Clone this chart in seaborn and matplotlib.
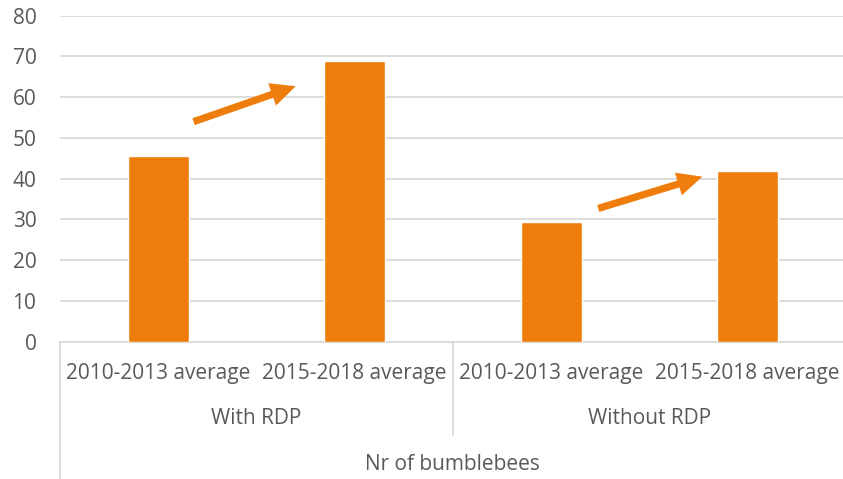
import matplotlib
matplotlib.use("Agg")
import matplotlib.pyplot as plt
import seaborn as sns
import pandas as pd

# Average number of bumblebees per period, with and without RDP
groups = ["With RDP", "With RDP", "Without RDP", "Without RDP"]
periods = ["2010-2013 average", "2015-2018 average", "2010-2013 average", "2015-2018 average"]
bumblebees = [45.5, 68.8, 29.5, 41.9]
axis_title = "Nr of bumblebees"
y_ticks = [0, 10, 20, 30, 40, 50, 60, 70, 80]

ORANGE = "#EF7D0C"
GRID = "#D9D9D9"
TEXT = "#595959"
FS = 15

sns.set_theme(style="white")
plt.rcParams["font.family"] = ["Open Sans", "DejaVu Sans"]

df = pd.DataFrame({
    "key": [f"{g}|{p}" for g, p in zip(groups, periods)],
    "group": groups,
    "period": periods,
    "value": bumblebees,
})

fig = plt.figure(figsize=(8.43, 4.79), dpi=100)
ax = fig.add_axes([0.0712, 0.2866, 0.932, 0.6806])

sns.barplot(data=df, x="key", y="value", order=list(df["key"]),
            color=ORANGE, saturation=1, width=0.31, ax=ax, zorder=3)

ax.set_xlim(-0.5, len(df) - 0.5)
ax.set_ylim(0, 80)
ax.set_yticks(y_ticks)
ax.set_yticklabels([str(t) for t in y_ticks], fontsize=FS, color=TEXT)
ax.tick_params(axis="y", length=0, pad=17)
ax.set_xticks([])
ax.set_xlabel("")
ax.set_ylabel("")
ax.yaxis.grid(True, color=GRID, linewidth=1.3, zorder=0)
ax.set_axisbelow(True)
for side in ["left", "right", "top"]:
    ax.spines[side].set_visible(False)
ax.spines["bottom"].set_color(GRID)
ax.spines["bottom"].set_linewidth(1.3)

# Multi-level category labels below the axis
xt = ax.get_xaxis_transform()
for i, p in enumerate(periods):
    ax.text(i, -0.096, p, transform=xt, ha="center", va="center",
            fontsize=FS, color=TEXT, clip_on=False)

group_names = list(dict.fromkeys(groups))
for g in group_names:
    idx = [i for i, x in enumerate(groups) if x == g]
    ax.text(sum(idx) / len(idx), -0.237, g, transform=xt, ha="center", va="center",
            fontsize=FS, color=TEXT, clip_on=False)

ax.text(0.5, -0.378, axis_title, transform=ax.transAxes, ha="center", va="center",
        fontsize=FS, color=TEXT, clip_on=False)

# Separator lines between category levels
ax.plot([-0.5, -0.5], [0, -0.45], transform=xt, color=GRID, linewidth=1.3, clip_on=False)
ax.plot([1.5, 1.5], [0, -0.285], transform=xt, color=GRID, linewidth=1.3, clip_on=False)

# Trend arrows
for (x0, y0), (x1, y1) in [((0.18, 54.0), (0.70, 62.7)), ((2.24, 32.7), (2.77, 40.5))]:
    ax.annotate("", xy=(x1, y1), xytext=(x0, y0),
                arrowprops=dict(width=5.2, headwidth=17, headlength=18,
                                shrink=0, color=ORANGE, linewidth=0))

fig.savefig("out.png", dpi=100)
